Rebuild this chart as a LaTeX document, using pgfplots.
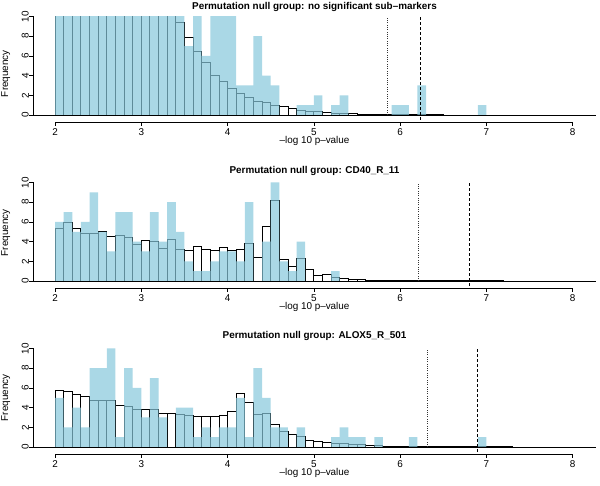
\documentclass[border=0pt]{standalone}
\usepackage{fontspec}
\setmainfont{Liberation Sans}
\usepackage{pgfplots}
\pgfplotsset{compat=1.18}
\definecolor{obsblue}{RGB}{134,199,219}
\newcommand{\fs}{\fontsize{9.9}{12}\selectfont}
\pgfplotsset{
 panel/.style={
  scale only axis, width=563pt, height=105.4pt,
  xmin=1.745, xmax=8.27, ymin=-0.7, ymax=10,
  axis x line*=bottom, axis y line*=left,
  axis line style={line width=0.5pt},
  x axis line style={-, shorten <=22pt, shorten >=23.3pt},
  y axis line style={-, shorten <=6.9pt},
  xtick={2,3,4,5,6,7,8}, ytick={0,2,4,6,8,10},
  tick align=outside, major tick length=4pt,
  tick style={black, line width=0.5pt},
  minor tick num=0,
  /pgf/number format/assume math mode=true,
  tick label style={font=\fs},
  xticklabel style={anchor=north, inner sep=0pt, yshift=-2.5pt},
  yticklabel style={rotate=90, anchor=south, inner sep=0pt},
  xlabel={\textendash log 10 p\textendash value},
  every axis x label/.style={at={(axis description cs:0.5,0)}, anchor=base, yshift=-22pt, font=\fs},
  ylabel={Frequency},
  every axis y label/.style={rotate=90, anchor=south, inner sep=0pt, font=\fs},
  every axis title/.style={at={(axis description cs:0.5,1)}, anchor=base, font=\bfseries\fs},
 },
 nullbar/.style={ybar interval, draw=black, fill=none, line width=0.85pt},
 obsbar/.style={ybar interval, draw=none, fill=obsblue, fill opacity=0.7},
 zeroline/.style={black, line width=0.5pt},
 dotline/.style={black!80, line width=0.5pt, dash pattern=on 0.7pt off 1.6pt},
 dashline/.style={black, line width=0.9pt, dash pattern=on 3pt off 2pt},
}
\begin{document}
\begin{tikzpicture}
\path[use as bounding box] (0,0) rectangle (600pt,-486pt);

% ---------------- Panel 1 ----------------
\begin{axis}[panel, at={(33pt,-121.9pt)}, anchor=south west,
  title={Permutation null group: no significant sub\textendash markers},
  title style={yshift=6.5pt},
  ylabel style={at={(axis description cs:-0.04,0.458)}}]
\addplot[nullbar] coordinates {(2.0,20)(2.1,20)(2.2,20)(2.3,20)(2.4,20)(2.5,20)(2.6,20)(2.7,20)(2.8,20)(2.9,20)(3.0,20)(3.1,20)(3.2,20)(3.3,20)(3.4,9.4)(3.5,7.9)(3.6,6.5)(3.7,5.3)(3.8,4.05)(3.9,3.4)(4.0,2.7)(4.1,2.15)(4.2,1.82)(4.3,1.35)(4.4,1.28)(4.5,1.0)(4.6,0.85)(4.7,0.62)(4.8,0.5)(4.9,0.4)(5.0,0.32)(5.1,0.25)(5.2,0.2)(5.3,0.15)(5.4,0.12)(5.5,0.1)(5.6,0.08)(5.7,0.06)(5.8,0.05)(5.9,0.04)(6.0,0.03)(6.1,0.025)(6.2,0.02)(6.3,0.015)(6.4,0.01)(6.5,0)};
\addplot[obsbar] coordinates {(2.0,20)(2.1,20)(2.2,20)(2.3,20)(2.4,20)(2.5,20)(2.6,20)(2.7,20)(2.8,20)(2.9,20)(3.0,20)(3.1,20)(3.2,20)(3.3,20)(3.4,20)(3.5,7)(3.6,20)(3.7,6)(3.8,20)(3.9,20)(4.0,20)(4.1,3)(4.2,3)(4.3,8)(4.4,4)(4.5,3)(4.6,0)(4.7,0)(4.8,1)(4.9,1)(5.0,2)(5.1,0)(5.2,1)(5.3,2)(5.4,0)(5.5,0)(5.6,0)(5.7,0)(5.8,0)(5.9,1)(6.0,1)(6.1,0)(6.2,3)(6.3,0)(6.4,0)(6.5,0)(6.6,0)(6.7,0)(6.8,0)(6.9,1)(7.0,0)};
\addplot[zeroline] coordinates {(1.745,0)(8.27,0)};
\addplot[dotline] coordinates {(5.85,0)(5.85,10)};
\addplot[dashline] coordinates {(6.23,-0.5)(6.23,10)};
\end{axis}

% ---------------- Panel 2 ----------------
\begin{axis}[panel, at={(33pt,-287.9pt)}, anchor=south west,
  title={Permutation null group: CD40\_R\_11},
  title style={yshift=8.5pt},
  ylabel style={at={(axis description cs:-0.04,0.523)}}]
\addplot[nullbar] coordinates {(2.0,5.36)(2.1,5.9)(2.2,5.3)(2.3,4.88)(2.4,4.78)(2.5,5.05)(2.6,4.5)(2.7,4.6)(2.8,4.47)(2.9,3.68)(3.0,4.16)(3.1,4.06)(3.2,3.34)(3.3,4.2)(3.4,3.24)(3.5,3.07)(3.6,3.5)(3.7,3.24)(3.8,3.07)(3.9,3.44)(4.0,3.07)(4.1,3.24)(4.2,3.86)(4.3,2.42)(4.4,5.53)(4.5,8.19)(4.6,2.15)(4.7,1.47)(4.8,2.25)(4.9,1.19)(5.0,0.61)(5.1,0.68)(5.2,0.37)(5.3,0.28)(5.4,0.2)(5.5,0.14)(5.6,0.1)(5.7,0.08)(5.8,0.06)(5.9,0.05)(6.0,0.04)(6.1,0.03)(6.2,0.025)(6.3,0.02)(6.4,0.02)(6.5,0.015)(6.6,0.015)(6.7,0.01)(6.8,0.01)(6.9,0.01)(7.0,0.01)(7.1,0.01)(7.2,0.005)(7.3,0.005)(7.4,0.005)(7.5,0)};
\addplot[obsbar] coordinates {(2.0,6)(2.1,7)(2.2,5)(2.3,6)(2.4,9)(2.5,5)(2.6,3)(2.7,7)(2.8,7)(2.9,4)(3.0,3)(3.1,7)(3.2,4)(3.3,8)(3.4,5)(3.5,2)(3.6,1)(3.7,1)(3.8,2)(3.9,3)(4.0,3)(4.1,2)(4.2,8)(4.3,0)(4.4,4)(4.5,10)(4.6,2)(4.7,1)(4.8,4)(4.9,0)(5.0,0)(5.1,0)(5.2,1)(5.3,0)};
\addplot[zeroline] coordinates {(1.745,0)(8.27,0)};
\addplot[dotline] coordinates {(6.21,0)(6.21,10)};
\addplot[dashline] coordinates {(6.80,-0.5)(6.80,10)};
\end{axis}

% ---------------- Panel 3 ----------------
\begin{axis}[panel, at={(33pt,-453.9pt)}, anchor=south west,
  title={Permutation null group: ALOX5\_R\_501},
  title style={yshift=9.5pt},
  ylabel style={at={(axis description cs:-0.04,0.533)}}]
\addplot[nullbar] coordinates {(2.0,5.71)(2.1,5.61)(2.2,5.34)(2.3,5.14)(2.4,4.69)(2.5,4.69)(2.6,4.69)(2.7,4.25)(2.8,4.15)(2.9,3.84)(3.0,3.81)(3.1,3.84)(3.2,3.44)(3.3,3.44)(3.4,3.33)(3.5,3.23)(3.6,3.1)(3.7,3.1)(3.8,3.1)(3.9,3.23)(4.0,3.64)(4.1,5.47)(4.2,4.56)(4.3,3.27)(4.4,3.44)(4.5,2.31)(4.6,1.63)(4.7,1.29)(4.8,1.05)(4.9,0.71)(5.0,0.58)(5.1,0.5)(5.2,0.4)(5.3,0.33)(5.4,0.27)(5.5,0.22)(5.6,0.16)(5.7,0.12)(5.8,0.1)(5.9,0.08)(6.0,0.06)(6.1,0.05)(6.2,0.04)(6.3,0.03)(6.4,0.025)(6.5,0.02)(6.6,0.02)(6.7,0.015)(6.8,0.015)(6.9,0.01)(7.0,0.01)(7.1,0.01)(7.2,0.01)(7.3,0.005)(7.4,0.005)(7.5,0.005)(7.6,0)};
\addplot[obsbar] coordinates {(2.0,5)(2.1,2)(2.2,4)(2.3,2)(2.4,8)(2.5,8)(2.6,10)(2.7,1)(2.8,8)(2.9,6)(3.0,3)(3.1,7)(3.2,3)(3.3,0)(3.4,4)(3.5,4)(3.6,1)(3.7,2)(3.8,1)(3.9,2)(4.0,2)(4.1,5)(4.2,1)(4.3,8)(4.4,5)(4.5,2)(4.6,2)(4.7,0)(4.8,2)(4.9,0)(5.0,0)(5.1,0)(5.2,1)(5.3,2)(5.4,1)(5.5,1)(5.6,0)(5.7,1)(5.8,0)(5.9,0)(6.0,0)(6.1,1)(6.2,0)(6.3,0)(6.4,0)(6.5,0)(6.6,0)(6.7,0)(6.8,0)(6.9,1)(7.0,0)};
\addplot[zeroline] coordinates {(1.745,0)(8.27,0)};
\addplot[dotline] coordinates {(6.31,0)(6.31,10)};
\addplot[dashline] coordinates {(6.90,-0.5)(6.90,10)};
\end{axis}
\end{tikzpicture}
\end{document}
